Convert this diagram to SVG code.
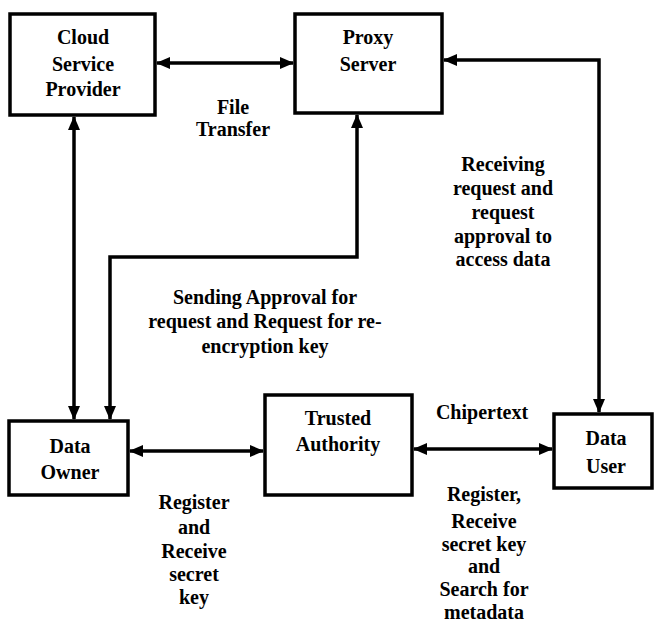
<svg xmlns="http://www.w3.org/2000/svg" width="655" height="624" viewBox="0 0 655 624">
<style>
.box{fill:#fff;stroke:#000;stroke-width:3.5}
.t{font-family:"Liberation Serif","Times New Roman",serif;font-weight:bold;font-size:20px;fill:#000;text-anchor:middle}
.c{fill:none;stroke:#000;stroke-width:3.5}
</style>
<defs>
<marker id="ah" markerUnits="userSpaceOnUse" markerWidth="14" markerHeight="12" refX="13" refY="6" orient="auto-start-reverse">
<path d="M0,0 L14,6 L0,12 z" fill="#000"/>
</marker>
</defs>
<rect width="655" height="624" fill="#fff"/>
<g id="connectors">
<line class="c" x1="157" y1="63" x2="293" y2="63" marker-start="url(#ah)" marker-end="url(#ah)"/>
<line class="c" x1="74" y1="117" x2="74" y2="419" marker-start="url(#ah)" marker-end="url(#ah)"/>
<path class="c" d="M357,115 V257 H110 V419" marker-start="url(#ah)" marker-end="url(#ah)"/>
<path class="c" d="M444,60 H599 V412" marker-start="url(#ah)" marker-end="url(#ah)"/>
<line class="c" x1="130" y1="451" x2="263" y2="451" marker-start="url(#ah)" marker-end="url(#ah)"/>
<line class="c" x1="414" y1="449" x2="552" y2="449" marker-start="url(#ah)" marker-end="url(#ah)"/>
<text class="t"><tspan x="233" y="114">File</tspan><tspan x="233" y="136">Transfer</tspan></text>
<text class="t"><tspan x="503" y="171">Receiving</tspan><tspan x="503" y="195">request and</tspan><tspan x="503" y="219">request</tspan><tspan x="503" y="243">approval to</tspan><tspan x="503" y="266">access data</tspan></text>
<text class="t"><tspan x="265" y="304">Sending Approval for</tspan><tspan x="265" y="328">request and Request for re-</tspan><tspan x="265" y="353">encryption key</tspan></text>
<text class="t" x="482" y="419">Chipertext</text>
<text class="t"><tspan x="194" y="509">Register</tspan><tspan x="194" y="534">and</tspan><tspan x="194" y="558">Receive</tspan><tspan x="194" y="581">secret</tspan><tspan x="194" y="604">key</tspan></text>
<text class="t"><tspan x="484" y="501">Register,</tspan><tspan x="484" y="528">Receive</tspan><tspan x="484" y="551">secret key</tspan><tspan x="484" y="573">and</tspan><tspan x="484" y="596">Search for</tspan><tspan x="484" y="619">metadata</tspan></text>
</g>
<g id="csp">
<rect class="box" x="10" y="14" width="145" height="101"/>
<text class="t"><tspan x="83" y="44">Cloud</tspan><tspan x="83" y="71">Service</tspan><tspan x="83" y="96">Provider</tspan></text>
</g>
<g id="proxy">
<rect class="box" x="295" y="14" width="147" height="99"/>
<text class="t"><tspan x="368" y="44">Proxy</tspan><tspan x="368" y="71">Server</tspan></text>
</g>
<g id="owner">
<rect class="box" x="9" y="421" width="119" height="74"/>
<text class="t"><tspan x="70" y="453">Data</tspan><tspan x="70" y="479">Owner</tspan></text>
</g>
<g id="ta">
<rect class="box" x="265" y="395" width="147" height="100"/>
<text class="t"><tspan x="338" y="425">Trusted</tspan><tspan x="338" y="451">Authority</tspan></text>
</g>
<g id="user">
<rect class="box" x="554" y="414" width="98" height="74"/>
<text class="t"><tspan x="606" y="445">Data</tspan><tspan x="606" y="473">User</tspan></text>
</g>
</svg>
